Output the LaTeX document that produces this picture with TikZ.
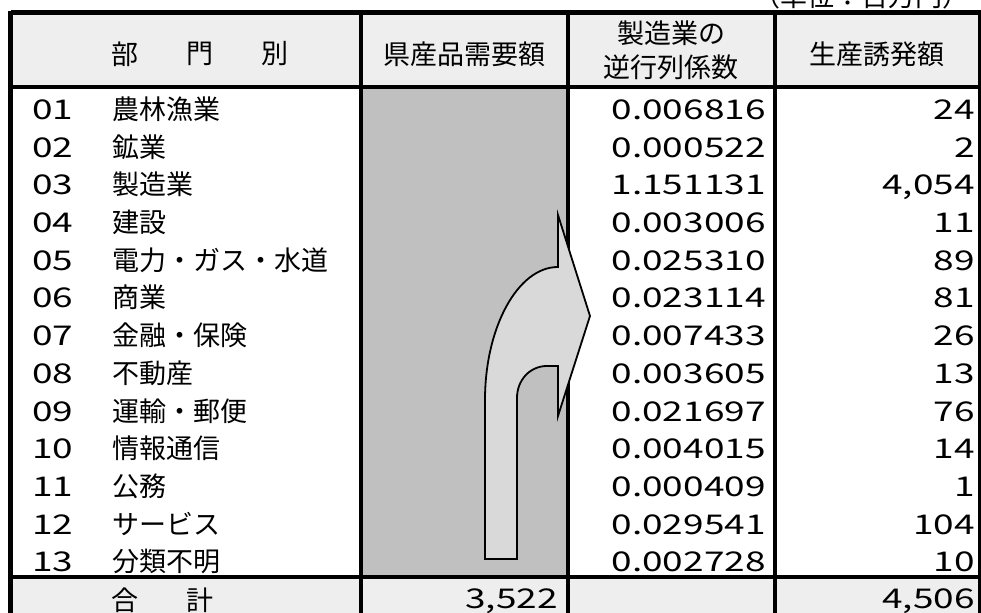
\documentclass[tikz,border=0pt]{standalone}
\usepackage{fontspec}
\setmainfont{Noto Sans CJK JP}
\newfontfamily\numfont[FakeStretch=1.36]{Noto Sans CJK JP}
\usepackage{xcolor}
\definecolor{hdrgray}{RGB}{238,238,238}
\definecolor{colgray}{RGB}{192,192,192}
\definecolor{arrgray}{RGB}{217,217,217}

\begin{document}
\begin{tikzpicture}[x=0.5pt,y=-0.5pt,
  jp/.style={inner sep=0pt,font=\fontsize{13.5}{16}\selectfont},
  secno/.style={anchor=base west,inner sep=0pt,font=\numfont\fontsize{13.6}{16}\selectfont},
  secname/.style={jp,anchor=base west},
  numval/.style={anchor=base east,inner sep=0pt,font=\numfont\fontsize{13.6}{16}\selectfont}]

\useasboundingbox (0,0) rectangle (981,613);
\clip (0,0) rectangle (981,613);

\fill [hdrgray](10,12) rectangle (981,87);
\fill [colgray](361,87) rectangle (568,577);
\fill [hdrgray](10,577) rectangle (981,620);

\draw [line width=2.4pt](10.5,12.5) -- (981,12.5);
\draw [line width=2.4pt](10.5,11.3) -- (10.5,620);
\draw [line width=2.4pt](980,11.3) -- (980,620);
\draw [line width=2pt](10,87.5) -- (981,87.5);
\draw [line width=2pt](10,577.5) -- (981,577.5);
\draw [line width=2pt](361,12) -- (361,620);
\draw [line width=2pt](568,12) -- (568,620);
\draw [line width=2pt](775,12) -- (775,620);

\node [jp,anchor=base east] (unit) at (970,7) {（単位：百万円）};

\node [jp] (hbu) at (125,54) {部};
\node [jp] (hmon) at (200,54) {門};
\node [jp] (hbetsu) at (275,54) {別};
\node [jp] (hdemand) at (464,54) {県産品需要額};
\node [jp] (hcoef1) at (671,33) {製造業の};
\node [jp] (hcoef2) at (671,67) {逆行列係数};
\node [jp] (hind) at (877,54) {生産誘発額};

\node [secno](no01) at (32,120) {01}; \node [secname](sec01) at (112,120) {農林漁業}; \node [numval](coef01) at (766,120) {0.006816}; \node [numval](ind01) at (975,120) {24};
\node [secno](no02) at (32,158) {02}; \node [secname](sec02) at (112,158) {鉱業}; \node [numval](coef02) at (766,158) {0.000522}; \node [numval](ind02) at (975,158) {2};
\node [secno](no03) at (32,195) {03}; \node [secname](sec03) at (112,195) {製造業}; \node [numval](coef03) at (766,195) {1.151131}; \node [numval](ind03) at (975,195) {4,054};
\node [secno](no04) at (32,233) {04}; \node [secname](sec04) at (112,233) {建設}; \node [numval](coef04) at (766,233) {0.003006}; \node [numval](ind04) at (975,233) {11};
\node [secno](no05) at (32,271) {05}; \node [secname](sec05) at (112,271) {電力・ガス・水道}; \node [numval](coef05) at (766,271) {0.025310}; \node [numval](ind05) at (975,271) {89};
\node [secno](no06) at (32,308) {06}; \node [secname](sec06) at (112,308) {商業}; \node [numval](coef06) at (766,308) {0.023114}; \node [numval](ind06) at (975,308) {81};
\node [secno](no07) at (32,346) {07}; \node [secname](sec07) at (112,346) {金融・保険}; \node [numval](coef07) at (766,346) {0.007433}; \node [numval](ind07) at (975,346) {26};
\node [secno](no08) at (32,384) {08}; \node [secname](sec08) at (112,384) {不動産}; \node [numval](coef08) at (766,384) {0.003605}; \node [numval](ind08) at (975,384) {13};
\node [secno](no09) at (32,422) {09}; \node [secname](sec09) at (112,422) {運輸・郵便}; \node [numval](coef09) at (766,422) {0.021697}; \node [numval](ind09) at (975,422) {76};
\node [secno](no10) at (32,459) {10}; \node [secname](sec10) at (112,459) {情報通信}; \node [numval](coef10) at (766,459) {0.004015}; \node [numval](ind10) at (975,459) {14};
\node [secno](no11) at (32,497) {11}; \node [secname](sec11) at (112,497) {公務}; \node [numval](coef11) at (766,497) {0.000409}; \node [numval](ind11) at (975,497) {1};
\node [secno](no12) at (32,535) {12}; \node [secname](sec12) at (112,535) {サービス}; \node [numval](coef12) at (766,535) {0.029541}; \node [numval](ind12) at (975,535) {104};
\node [secno](no13) at (32,572) {13}; \node [secname](sec13) at (112,572) {分類不明}; \node [numval](coef13) at (766,572) {0.002728}; \node [numval](ind13) at (975,572) {10};

\node [jp] (tgo) at (125,600) {合};
\node [jp] (tkei) at (200,600) {計};
\node [numval](totdemand) at (558,609) {3,522};
\node [numval](totind) at (975,609) {4,506};

\filldraw [fill=arrgray,line width=0.9pt,line join=miter](485,559) -- (485,400) .. controls (485,327) and (518,267) .. (558,267) -- (558,215) -- (590,316) -- (558,416) -- (558,366) -- (547,366) .. controls (530,366) and (517,380) .. (517,398) -- (517,559) -- cycle;

\end{tikzpicture}
\end{document}
